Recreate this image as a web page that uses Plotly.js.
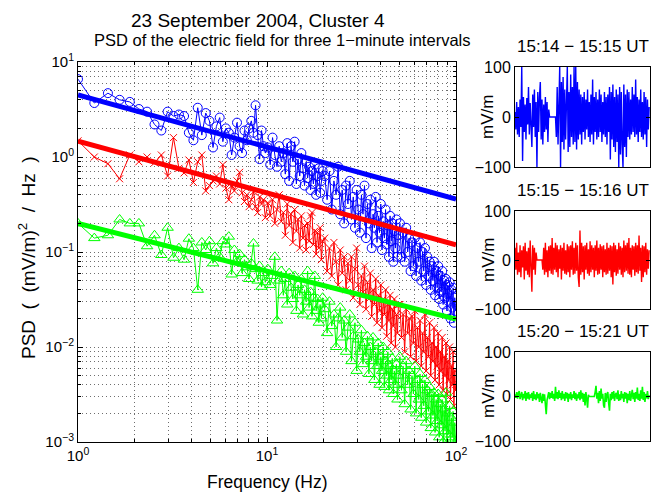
<!DOCTYPE html>
<html>
<head>
<meta charset="utf-8">
<script src="https://cdn.plot.ly/plotly-3.0.1.min.js"></script>
<style>html,body{margin:0;padding:0;background:#fff}#chart{width:662px;height:495px}</style>
</head>
<body>
<div id="chart"></div>
<script>
// Frequencies (Hz)
const freqHz = [1.00,1.22,1.44,1.66,1.88,2.10,2.32,2.54,2.76,2.98,3.20,3.42,3.64,3.86,4.08,4.30,4.52,4.74,4.96,5.18,5.40,5.62,5.84,6.06,6.28,6.50,6.72,6.94,7.16,7.38,7.60,7.82,8.04,8.26,8.48,8.70,8.92,9.14,9.36,9.58,9.80,
10.1,10.4,10.7,11.0,11.3,11.6,11.9,12.2,12.5,12.8,13.1,13.4,13.7,14.0,14.3,14.6,14.9,15.2,15.5,15.8,16.1,16.4,16.7,17.0,17.3,17.6,17.9,18.2,18.5,18.8,19.1,19.4,19.7,
20.2,20.8,21.4,22.0,22.6,23.2,23.8,24.4,25.0,25.6,26.2,26.8,27.4,28.0,28.6,29.2,29.8,30.4,31.0,31.6,32.2,32.8,33.4,34.0,34.6,35.2,35.8,36.4,37.0,37.6,38.2,38.8,39.4,40.0,40.6,41.2,41.8,42.4,43.0,43.6,44.2,44.8,45.4,46.0,46.6,47.2,47.8,48.4,49.0,49.6,
50.5,51.5,52.5,53.5,54.5,55.5,56.5,57.5,58.5,59.5,60.5,61.5,62.5,63.5,64.5,65.5,66.5,67.5,68.5,69.5,70.5,71.5,72.5,73.5,74.5,75.5,76.5,77.5,78.5,79.5,80.5,81.5,82.5,83.5,84.5,85.5,86.5,87.5,88.5,89.5,90.5,91.5,92.5,93.5,94.5,95.5,96.5,97.5,98.5,99.5];

// PSD 15:14-15:15 UT (blue)
const psdBlue = [6.6,3.7,4.7,4.0,3.8,3.2,3.0,2.2,1.9,3.0,2.7,2.8,2.7,1.8,1.5,3.3,1.7,2.9,2.4,1.26,2.1,2.6,1.45,2.0,1.8,1.05,1.6,2.3,1.3,1.1,1.9,1.5,2.0,2.4,1.8,3.5,1.7,0.95,1.9,1.3,1.1,
1.26,0.83,1.6,1.05,0.79,1.3,0.89,1.1,0.66,1.4,0.56,1.3,0.89,1.45,0.52,0.95,0.63,1.1,0.76,0.50,0.89,0.60,0.79,0.45,0.71,0.52,0.83,0.40,0.63,0.76,0.42,0.56,0.71,
0.63,0.355,0.71,0.28,0.56,0.40,0.79,0.25,0.45,0.20,0.50,0.32,0.56,0.22,0.38,0.18,0.45,0.28,0.16,0.40,0.25,0.50,0.14,0.32,0.20,0.355,0.11,0.25,0.18,0.38,0.126,0.24,0.16,0.32,0.105,0.21,0.14,0.28,0.12,0.19,0.089,0.24,0.13,0.20,0.079,0.166,0.11,0.22,0.089,0.15,
0.20,0.089,0.16,0.079,0.18,0.10,0.14,0.063,0.126,0.071,0.14,0.056,0.11,0.079,0.126,0.05,0.10,0.063,0.11,0.045,0.089,0.056,0.079,0.04,0.071,0.05,0.079,0.035,0.063,0.042,0.071,0.032,0.056,0.038,0.063,0.028,0.05,0.033,0.052,0.024,0.045,0.030,0.048,0.020,0.040,0.026,0.042,0.018,0.033,0.024];

// PSD 15:15-15:16 UT (red)
const psdRed = [1.48,1.0,0.85,0.59,1.05,0.89,1.0,0.87,1.05,0.63,1.6,0.76,0.68,0.93,0.54,0.89,1.05,0.44,0.50,0.56,0.63,0.52,0.83,0.47,0.355,0.50,0.44,0.56,0.69,0.42,0.34,0.40,0.30,0.355,0.43,0.30,0.26,0.38,0.32,0.355,0.23,
0.33,0.24,0.355,0.20,0.28,0.40,0.21,0.26,0.15,0.32,0.19,0.25,0.126,0.28,0.166,0.22,0.11,0.24,0.14,0.19,0.105,0.20,0.13,0.24,0.26,0.12,0.166,0.095,0.16,0.11,0.18,0.083,0.13,
0.14,0.063,0.11,0.056,0.126,0.079,0.045,0.105,0.060,0.089,0.040,0.076,0.050,0.089,0.033,0.066,0.11,0.045,0.028,0.056,0.038,0.071,0.025,0.048,0.032,0.060,0.021,0.040,0.028,0.052,0.018,0.035,0.024,0.045,0.016,0.032,0.022,0.040,0.013,0.028,0.019,0.035,0.011,0.025,0.0166,0.032,0.010,0.022,0.014,0.028,
0.028,0.0126,0.022,0.0089,0.025,0.014,0.020,0.0079,0.021,0.011,0.024,0.0071,0.016,0.010,0.019,0.0063,0.014,0.0089,0.022,0.0056,0.0126,0.0079,0.018,0.005,0.011,0.0071,0.016,0.0045,0.010,0.0063,0.014,0.004,0.0089,0.0056,0.0126,0.0035,0.0079,0.005,0.011,0.0032,0.0071,0.0045,0.010,0.0028,0.0063,0.004,0.0089,0.0024,0.0056,0.0035];

// PSD 15:20-15:21 UT (green)
const psdGreen = [0.20,0.14,0.15,0.22,0.20,0.20,0.115,0.15,0.093,0.18,0.087,0.11,0.083,0.138,0.11,0.040,0.126,0.105,0.13,0.076,0.11,0.089,0.13,0.12,0.145,0.058,0.105,0.079,0.095,0.060,0.083,0.069,0.052,0.076,0.123,0.066,0.050,0.071,0.043,0.060,0.048,
0.066,0.045,0.056,0.089,0.019,0.050,0.063,0.035,0.052,0.028,0.060,0.042,0.032,0.056,0.024,0.045,0.035,0.052,0.022,0.040,0.030,0.063,0.026,0.038,0.021,0.033,0.056,0.024,0.032,0.018,0.028,0.020,0.033,
0.025,0.014,0.030,0.0166,0.022,0.010,0.020,0.026,0.0126,0.019,0.0089,0.016,0.022,0.0071,0.013,0.018,0.0056,0.012,0.0089,0.015,0.0066,0.011,0.0079,0.013,0.0052,0.010,0.0071,0.0126,0.0045,0.0089,0.0063,0.011,0.004,0.0079,0.0056,0.010,0.0038,0.0071,0.005,0.0089,0.0035,0.0063,0.0045,0.0076,0.0032,0.0056,0.004,0.0066,0.0028,0.005,
0.0079,0.0035,0.0063,0.0025,0.0071,0.004,0.0056,0.0022,0.005,0.0032,0.0063,0.002,0.0045,0.0028,0.0052,0.0018,0.004,0.0024,0.0045,0.0016,0.0035,0.0021,0.0038,0.0014,0.0032,0.0019,0.0033,0.00126,0.0028,0.00166,0.0032,0.00112,0.0025,0.0015,0.0028,0.0010,0.0022,0.0013,0.0033,0.00095,0.002,0.0012,0.0024,0.00089,0.0018,0.00112,0.0021,0.00089,0.0016,0.0010];

// Power-law fits (endpoints at 1 Hz and 100 Hz)
const fitFreq = [1, 100];
const fitBlue = [4.5, 0.36];
const fitRed = [1.47, 0.119];
const fitGreen = [0.2, 0.0197];

// Electric field time series, mV/m (1 minute, 160 samples each)
const seriesSeconds = 60;
const efBlue = [10,-25,30,-35,20,-40,35,-20,100,-88,40,-30,25,-45,38,-15,60,-35,28,-50,-60,45,-20,55,-40,30,-100,50,-30,40,70,-45,35,-55,25,-30,40,-25,30,-50,15,
0,0,0,0,0,0,0,0,
-40,60,-55,45,100,-100,70,-50,80,-65,55,-45,65,100,-70,50,-60,85,-40,60,-55,100,-50,100,-65,70,-45,55,-35,45,-55,40,-30,50,-45,35,-25,55,-40,30,-50,45,-35,75,-55,40,-30,50,-45,35,-40,55,-30,45,-50,30,-35,50,-40,40,-55,45,-30,60,-85,50,-45,65,-60,40,-70,55,-50,45,-100,60,-75,50,-55,-100,65,-60,45,-80,55,-40,50,-45,35,-35,60,-30,45,-40,75,-35,40,-50,35,-30,55,-40,30,-45,50,-35,40,-60,35,-25,20];
const efRed = [25,-20,35,-30,15,-25,30,-35,20,-15,28,-40,35,-22,18,-30,25,-35,40,-28,-65,30,-20,25,-30,15,
0,0,0,0,0,0,0,
-20,25,-30,35,-25,20,-35,28,-22,30,-28,45,-30,25,-20,35,-25,30,-35,22,-18,30,-40,25,-22,35,-28,20,-30,32,-25,28,-35,30,-20,38,-30,25,-28,35,-22,30,-35,-55,60,-30,35,-25,28,-40,30,-20,35,-28,22,-32,38,-25,30,-20,25,-35,30,-22,40,-30,25,-28,32,-20,28,-35,30,-25,22,-30,35,-28,25,-22,30,-35,28,-50,35,-25,30,-32,22,-28,35,-20,28,-30,25,-35,40,-25,30,-22,35,-28,45,-30,25,-35,30,-20,28,-32,35,-25,30,-28,50,-22,25,-45,30,-35,28,-25,35,-30,22,-18,20];
const efGreen = [5,-3,10,-5,8,12,-6,4,10,-8,6,-4,12,-10,8,-5,10,-7,5,-3,8,-10,12,-6,5,-8,10,-4,6,-12,8,-5,-15,6,-10,5,-20,-40,-8,4,10,-6,8,-3,12,-5,6,-10,22,-4,10,-6,14,-3,8,-8,12,-5,6,-10,10,-4,8,-12,6,-5,10,-8,5,-3,12,-6,8,-10,5,-4,10,-8,14,-5,
8,-12,6,-20,10,-5,-25,4,
0,0,0,0,0,0,0,
10,24,-5,8,-15,12,-10,18,-5,6,-20,-25,8,-12,5,10,-15,-32,6,-8,10,-5,12,-10,4,8,-6,14,-10,5,-8,12,-4,6,-12,10,-5,8,-15,6,-8,12,-10,5,15,-6,8,-12,10,-5,20,-8,6,-10,14,-5,22,-8,10,-12,6,-4,12,-6,3];

// Tick labels
const psdTickVals = [0.001, 0.01, 0.1, 1, 10];
const psdTickText = ['10<sup>−3</sup>', '10<sup>−2</sup>', '10<sup>−1</sup>', '10<sup>0</sup>', '10<sup>1</sup>'];
const psdMinorVals = [0.002,0.003,0.004,0.005,0.006,0.007,0.008,0.009,0.02,0.03,0.04,0.05,0.06,0.07,0.08,0.09,0.2,0.3,0.4,0.5,0.6,0.7,0.8,0.9,2,3,4,5,6,7,8,9];
const freqTickVals = [1, 10, 100];
const freqTickText = ['10<sup>0</sup>', '10<sup>1</sup>', '10<sup>2</sup>'];
const freqMinorVals = [2,3,4,5,6,7,8,9,20,30,40,50,60,70,80,90];
const efTickVals = [-100, 0, 100];
const panelTitles = ['15:14 − 15:15 UT', '15:15 − 15:16 UT', '15:20 − 15:21 UT'];

const BLUE = '#0000ff', RED = '#ff0000', GREEN = '#00ff00';
const W = 662, H = 495;
const px = v => v / W, py = v => 1 - v / H;

const traces = [
  {x: freqHz, y: psdBlue, mode: 'lines+markers', line: {color: BLUE, width: 1},
   marker: {symbol: 'circle-open', size: 9, color: BLUE, line: {width: 1}}, xaxis: 'x', yaxis: 'y'},
  {x: freqHz, y: psdRed, mode: 'lines+markers', line: {color: RED, width: 1},
   marker: {symbol: 'x-thin-open', size: 7, color: RED, line: {width: 1, color: RED}}, xaxis: 'x', yaxis: 'y'},
  {x: freqHz, y: psdGreen, mode: 'lines+markers', line: {color: GREEN, width: 1},
   marker: {symbol: 'triangle-up-open', size: 10, color: GREEN, line: {width: 1}}, xaxis: 'x', yaxis: 'y'},
  {x: fitFreq, y: fitBlue, mode: 'lines', line: {color: BLUE, width: 5}, xaxis: 'x', yaxis: 'y'},
  {x: fitFreq, y: fitRed, mode: 'lines', line: {color: RED, width: 5}, xaxis: 'x', yaxis: 'y'},
  {x: fitFreq, y: fitGreen, mode: 'lines', line: {color: GREEN, width: 5}, xaxis: 'x', yaxis: 'y'},
  {y: efBlue, x0: 0, dx: seriesSeconds / efBlue.length, mode: 'lines', line: {color: BLUE, width: 1.4}, xaxis: 'x2', yaxis: 'y2'},
  {y: efRed, x0: 0, dx: seriesSeconds / efRed.length, mode: 'lines', line: {color: RED, width: 1.4}, xaxis: 'x3', yaxis: 'y3'},
  {y: efGreen, x0: 0, dx: seriesSeconds / efGreen.length, mode: 'lines', line: {color: GREEN, width: 1.6}, xaxis: 'x4', yaxis: 'y4'}
];

const gridStyle = {showgrid: true, gridcolor: '#6e6e6e', griddash: '1px,3px', gridwidth: 1};
const boxStyle = {showline: true, linecolor: '#000', linewidth: 1, mirror: 'allticks', zeroline: false, ticks: 'inside', ticklen: 5, tickcolor: '#000'};
const minorStyle = {tickmode: 'array', ticks: 'inside', ticklen: 3, tickcolor: '#000', showgrid: true, gridcolor: '#6e6e6e', griddash: '1px,3px', gridwidth: 1};

function smallX(dom) {
  return Object.assign({}, boxStyle, {domain: dom, range: [0, seriesSeconds], showticklabels: false, ticks: '', mirror: true, showgrid: false});
}
function smallY(dom, anchor) {
  return Object.assign({}, boxStyle, {domain: dom, anchor: anchor, range: [-100, 100], tickvals: efTickVals, showgrid: false, tickfont: {size: 16}, ticklen: 4});
}
const xDom = [px(515), px(650)];

const gap = '\u00a0\u00a0';
const layout = {
  width: W, height: H,
  margin: {l: 0, r: 0, t: 0, b: 0},
  paper_bgcolor: '#fff', plot_bgcolor: '#fff',
  showlegend: false,
  font: {family: 'Liberation Sans, Arial, Helvetica, sans-serif', size: 15, color: '#000'},
  xaxis: Object.assign({}, boxStyle, gridStyle, {
    type: 'log', range: [0, 2], domain: [px(78), px(456)], anchor: 'y',
    tickvals: freqTickVals, ticktext: freqTickText, tickfont: {size: 15},
    minor: Object.assign({tickvals: freqMinorVals}, minorStyle)
  }),
  yaxis: Object.assign({}, boxStyle, gridStyle, {
    type: 'log', range: [-3, 1], domain: [1 - 442 / H, 1 - 62 / H], anchor: 'x',
    tickvals: psdTickVals, ticktext: psdTickText, tickfont: {size: 15},
    minor: Object.assign({tickvals: psdMinorVals}, minorStyle)
  }),
  xaxis2: Object.assign(smallX(xDom), {anchor: 'y2'}),
  yaxis2: smallY([1 - 167 / H, 1 - 67 / H], 'x2'),
  xaxis3: Object.assign(smallX(xDom), {anchor: 'y3'}),
  yaxis3: smallY([1 - 309 / H, 1 - 211 / H], 'x3'),
  xaxis4: Object.assign(smallX(xDom), {anchor: 'y4'}),
  yaxis4: smallY([1 - 441 / H, 1 - 352 / H], 'x4'),
  annotations: [
    {text: '23 September 2004, Cluster 4', x: px(258), y: py(20), xref: 'paper', yref: 'paper', showarrow: false, xanchor: 'center', yanchor: 'middle', font: {size: 19}},
    {text: 'PSD of the electric field for three 1−minute intervals', x: px(282), y: py(40), xref: 'paper', yref: 'paper', showarrow: false, xanchor: 'center', yanchor: 'middle', font: {size: 16.5}},
    {text: 'Frequency (Hz)', x: px(267), y: py(482), xref: 'paper', yref: 'paper', showarrow: false, xanchor: 'center', yanchor: 'middle', font: {size: 17.5}},
    {text: 'PSD' + gap + '(' + gap + '(mV/m)<sup>2</sup>' + gap + '/' + gap + 'Hz' + gap + ')', x: px(27), y: py(258), xref: 'paper', yref: 'paper', showarrow: false, textangle: -90, xanchor: 'center', yanchor: 'middle', font: {size: 19}},
    {text: panelTitles[0], x: px(583), y: py(46), xref: 'paper', yref: 'paper', showarrow: false, xanchor: 'center', yanchor: 'middle', font: {size: 17}},
    {text: panelTitles[1], x: px(583), y: py(190), xref: 'paper', yref: 'paper', showarrow: false, xanchor: 'center', yanchor: 'middle', font: {size: 17}},
    {text: panelTitles[2], x: px(583), y: py(331), xref: 'paper', yref: 'paper', showarrow: false, xanchor: 'center', yanchor: 'middle', font: {size: 17}},
    {text: 'mV/m', x: px(488), y: py(117), xref: 'paper', yref: 'paper', showarrow: false, textangle: -90, xanchor: 'center', yanchor: 'middle', font: {size: 17}},
    {text: 'mV/m', x: px(488), y: py(260), xref: 'paper', yref: 'paper', showarrow: false, textangle: -90, xanchor: 'center', yanchor: 'middle', font: {size: 17}},
    {text: 'mV/m', x: px(488), y: py(396), xref: 'paper', yref: 'paper', showarrow: false, textangle: -90, xanchor: 'center', yanchor: 'middle', font: {size: 17}}
  ]
};

Plotly.newPlot('chart', traces, layout, {staticPlot: true, displayModeBar: false});
</script>
</body>
</html>
